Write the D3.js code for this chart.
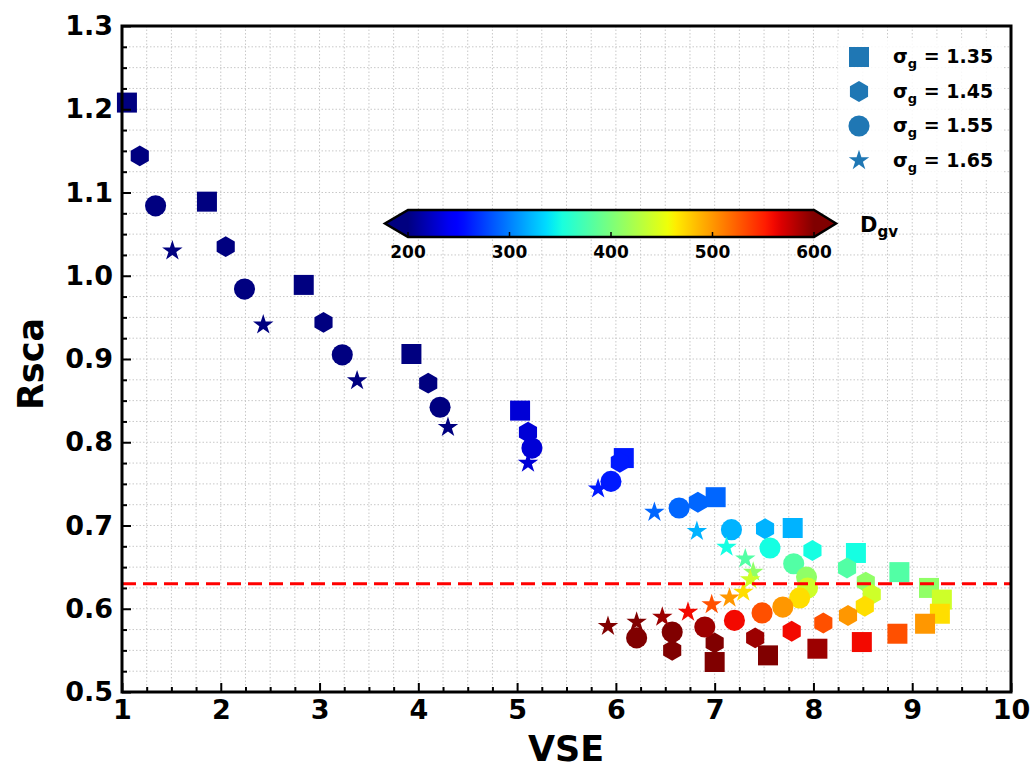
<!DOCTYPE html>
<html>
<head>
  <style type="text/css">
    body { margin: 0; background: #fff; }
    text { font-family: "DejaVu Sans", sans-serif; font-weight: bold; }
  </style>
</head>
<body>
  <svg width="1032" height="771" id="chart"></svg>

  <script src="https://d3js.org/d3.v7.min.js"></script>
  <script>

// D_gv of each point, shared by all four series
const dgv = [110, 140, 170, 200, 230, 260, 290, 320, 350, 380, 410, 440, 470, 500, 530, 560, 590, 620, 650]

// sigma_g = 1.35 (square)
const vse135  = [1.05, 1.86, 2.84, 3.93, 5.03, 6.08, 7.01, 7.79, 8.43, 8.87, 9.17, 9.30, 9.28, 9.13, 8.85, 8.49, 8.04, 7.54, 7.00]
const rsca135 = [1.208, 1.089, 0.989, 0.906, 0.838, 0.781, 0.734, 0.697, 0.667, 0.644, 0.625, 0.611, 0.594, 0.582, 0.570, 0.560, 0.552, 0.544, 0.536]
// sigma_g = 1.45 (hexagon)
const vse145  = [1.18, 2.05, 3.04, 4.10, 5.11, 6.04, 6.83, 7.51, 7.99, 8.34, 8.53, 8.59, 8.52, 8.35, 8.10, 7.78, 7.41, 7.00, 6.57]
const rsca145 = [1.144, 1.035, 0.944, 0.871, 0.812, 0.776, 0.728, 0.696, 0.670, 0.649, 0.632, 0.617, 0.603, 0.592, 0.583, 0.573, 0.565, 0.559, 0.550]
// sigma_g = 1.55 (circle)
const vse155  = [1.34, 2.24, 3.23, 4.22, 5.15, 5.95, 6.64, 7.17, 7.56, 7.80, 7.93, 7.94, 7.86, 7.69, 7.48, 7.20, 6.90, 6.57, 6.21]
const rsca155 = [1.084, 0.984, 0.905, 0.842, 0.793, 0.753, 0.721, 0.695, 0.673, 0.654, 0.638, 0.625, 0.613, 0.602, 0.595, 0.586, 0.578, 0.572, 0.565]
// sigma_g = 1.65 (star)
const vse165  = [1.51, 2.43, 3.38, 4.30, 5.11, 5.82, 6.39, 6.82, 7.12, 7.31, 7.39, 7.36, 7.29, 7.15, 6.97, 6.73, 6.47, 6.21, 5.92]
const rsca165 = [1.030, 0.941, 0.874, 0.818, 0.775, 0.744, 0.716, 0.693, 0.674, 0.660, 0.644, 0.635, 0.620, 0.613, 0.605, 0.596, 0.590, 0.584, 0.579]

const sigmaLabels = ['1.35', '1.45', '1.55', '1.65']
const xTicks = [1, 2, 3, 4, 5, 6, 7, 8, 9, 10]
const yTicks = [0.5, 0.6, 0.7, 0.8, 0.9, 1.0, 1.1, 1.2, 1.3]
const cbTicks = [200, 300, 400, 500, 600]
const threshold = 0.63

function translate(x, y) { return 'translate(' + x + ',' + y + ')'; }

// matplotlib 'jet'
function jet(t) {
  t = Math.max(0, Math.min(1, t))
  let seg = (pts) => {
    for (let i = 1; i < pts.length; i++) {
      if (t <= pts[i][0]) {
        let a = pts[i - 1], b = pts[i]
        return a[1] + (b[1] - a[1]) * (t - a[0]) / (b[0] - a[0])
      }
    }
    return pts[pts.length - 1][1]
  }
  let r = seg([[0, 0], [0.35, 0], [0.66, 1], [0.89, 1], [1, 0.5]])
  let g = seg([[0, 0], [0.125, 0], [0.375, 1], [0.64, 1], [0.91, 0], [1, 0]])
  let b = seg([[0, 0.5], [0.11, 1], [0.34, 1], [0.65, 0], [1, 0]])
  return d3.rgb(r * 255, g * 255, b * 255).formatHex()
}

const hexagon = {
  draw(ctx, size) {
    let R = Math.sqrt(size / (1.5 * Math.sqrt(3)))
    for (let i = 0; i < 6; i++) {
      let a = -Math.PI / 2 + i * Math.PI / 3
      if (i === 0) ctx.moveTo(R * Math.cos(a), R * Math.sin(a))
      else ctx.lineTo(R * Math.cos(a), R * Math.sin(a))
    }
    ctx.closePath()
  }
}

const series = [
  { xs: vse135, ys: rsca135, type: d3.symbolSquare, size: 400 },
  { xs: vse145, ys: rsca145, type: hexagon, size: 285 },
  { xs: vse155, ys: rsca155, type: d3.symbolCircle, size: 350 },
  { xs: vse165, ys: rsca165, type: d3.symbolStar, size: 130 }
]

const pLeft = 122, pRight = 1011, pTop = 26, pBottom = 692
const svg = d3.select('#chart')

const x = d3.scaleLinear().domain([1, 10]).range([pLeft, pRight])
const y = d3.scaleLinear().domain([0.5, 1.3]).range([pBottom, pTop])
const color = d3.scaleLinear().domain([200, 600]).range([0, 1]).clamp(true)

// grid
let grid = svg.append('g')
grid.selectAll('line.gx').data(d3.range(1, 10.001, 0.25)).join('line')
  .attr('x1', d => x(d)).attr('x2', d => x(d)).attr('y1', pTop).attr('y2', pBottom)
  .attr('stroke', '#c8c8c8').attr('stroke-width', 1).attr('stroke-dasharray', '1.5,2')
grid.selectAll('line.gy').data(d3.range(0.5, 1.3001, 0.025)).join('line')
  .attr('y1', d => y(d)).attr('y2', d => y(d)).attr('x1', pLeft).attr('x2', pRight)
  .attr('stroke', '#c8c8c8').attr('stroke-width', 1).attr('stroke-dasharray', '1.5,2')

// colorbar (inset)
let cbx = d3.scaleLinear().domain([200, 600]).range([408, 814])
let cbTop = 210, cbBot = 237, cbMid = (cbTop + cbBot) / 2
let grad = svg.append('defs').append('linearGradient').attr('id', 'jet')
  .attr('x1', '0%').attr('x2', '100%').attr('y1', '0%').attr('y2', '0%')
grad.selectAll('stop').data(d3.range(0, 1.0001, 0.02)).join('stop')
  .attr('offset', d => (d * 100) + '%').attr('stop-color', d => jet(d))
let cb = svg.append('g')
cb.append('rect').attr('x', cbx(200)).attr('y', cbTop).attr('width', cbx(600) - cbx(200)).attr('height', cbBot - cbTop)
  .attr('fill', 'url(#jet)')
cb.append('path').attr('d', `M${cbx(200)},${cbTop}L${cbx(200) - 23},${cbMid}L${cbx(200)},${cbBot}Z`).attr('fill', jet(0))
cb.append('path').attr('d', `M${cbx(600)},${cbTop}L${cbx(600) + 22},${cbMid}L${cbx(600)},${cbBot}Z`).attr('fill', jet(1))
cb.append('path')
  .attr('d', `M${cbx(200)},${cbTop}L${cbx(600)},${cbTop}L${cbx(600) + 22},${cbMid}L${cbx(600)},${cbBot}L${cbx(200)},${cbBot}L${cbx(200) - 23},${cbMid}Z`)
  .attr('fill', 'none').attr('stroke', '#000').attr('stroke-width', 2.5).attr('stroke-linejoin', 'miter')
cb.selectAll('line.t').data(cbTicks).join('line')
  .attr('x1', d => cbx(d)).attr('x2', d => cbx(d)).attr('y1', cbBot).attr('y2', cbBot - 5)
  .attr('stroke', '#000').attr('stroke-width', 1.5)
cb.selectAll('text.t').data(cbTicks).join('text')
  .attr('x', d => cbx(d)).attr('y', 258).attr('text-anchor', 'middle')
  .style('font-size', '17px').text(d => d)
let dl = cb.append('text').attr('x', 860).attr('y', 232).style('font-size', '21px')
dl.append('tspan').text('D')
dl.append('tspan').attr('dy', 5).style('font-size', '15px').text('gv')

// scatter markers
series.forEach(s => {
  svg.append('g').selectAll('path').data(dgv).join('path')
    .attr('transform', (d, i) => translate(x(s.xs[i]), y(s.ys[i])))
    .attr('d', d3.symbol().type(s.type).size(s.size))
    .attr('fill', d => jet(color(d)))
})

// threshold line
svg.append('line')
  .attr('x1', pLeft).attr('x2', pRight).attr('y1', y(threshold)).attr('y2', y(threshold))
  .attr('stroke', '#ff0000').attr('stroke-width', 3).attr('stroke-dasharray', '14,7')

// axes
let xAxis = svg.append('g').attr('transform', translate(0, pBottom))
  .call(d3.axisBottom(x).tickValues(xTicks).tickSize(-9).tickPadding(8).tickFormat(d3.format('d')))
xAxis.append('g').call(d3.axisBottom(x).tickValues(d3.range(1, 10.001, 0.25).filter(d => d % 1 !== 0)).tickSize(-5).tickFormat(''))
let yAxis = svg.append('g').attr('transform', translate(pLeft, 0))
  .call(d3.axisLeft(y).tickValues(yTicks).tickSize(-9).tickPadding(9).tickFormat(d3.format('.1f')))
yAxis.append('g').call(d3.axisLeft(y).tickValues(d3.range(0.5, 1.3001, 0.025).filter((d, i) => i % 4 !== 0)).tickSize(-5).tickFormat(''))
svg.selectAll('.domain').remove()
svg.selectAll('.tick line').attr('stroke', '#000').attr('stroke-width', 2)
svg.selectAll('.tick text').attr('fill', '#000').style('font-size', '27px').style('font-family', '"DejaVu Sans", sans-serif').style('font-weight', 'bold')

svg.append('rect').attr('x', pLeft).attr('y', pTop).attr('width', pRight - pLeft).attr('height', pBottom - pTop)
  .attr('fill', 'none').attr('stroke', '#000').attr('stroke-width', 3)

// legend
let lg = svg.append('g')
lg.append('rect').attr('x', 838).attr('y', 38).attr('width', 166).attr('height', 142).attr('rx', 4)
  .attr('fill', '#fff').attr('fill-opacity', 0.85)
series.forEach((s, i) => {
  let cy = 57 + i * 34.5
  lg.append('path').attr('transform', translate(859, cy))
    .attr('d', d3.symbol().type(s.type).size(s.size)).attr('fill', '#1f77b4')
  let t = lg.append('text').attr('x', 893).attr('y', cy + 6).style('font-size', '19px')
  t.append('tspan').text('σ')
  t.append('tspan').attr('dy', 5).style('font-size', '13px').text('g')
  t.append('tspan').attr('dy', -5).text(' = ' + sigmaLabels[i])
})

// axis titles
svg.append('text').attr('transform', translate(43, 364) + ' rotate(-90)')
  .attr('text-anchor', 'middle').style('font-size', '35px').text('Rsca')
svg.append('text').attr('x', 566).attr('y', 761)
  .attr('text-anchor', 'middle').style('font-size', '35px').text('VSE')

  </script>
</body>
</html>
